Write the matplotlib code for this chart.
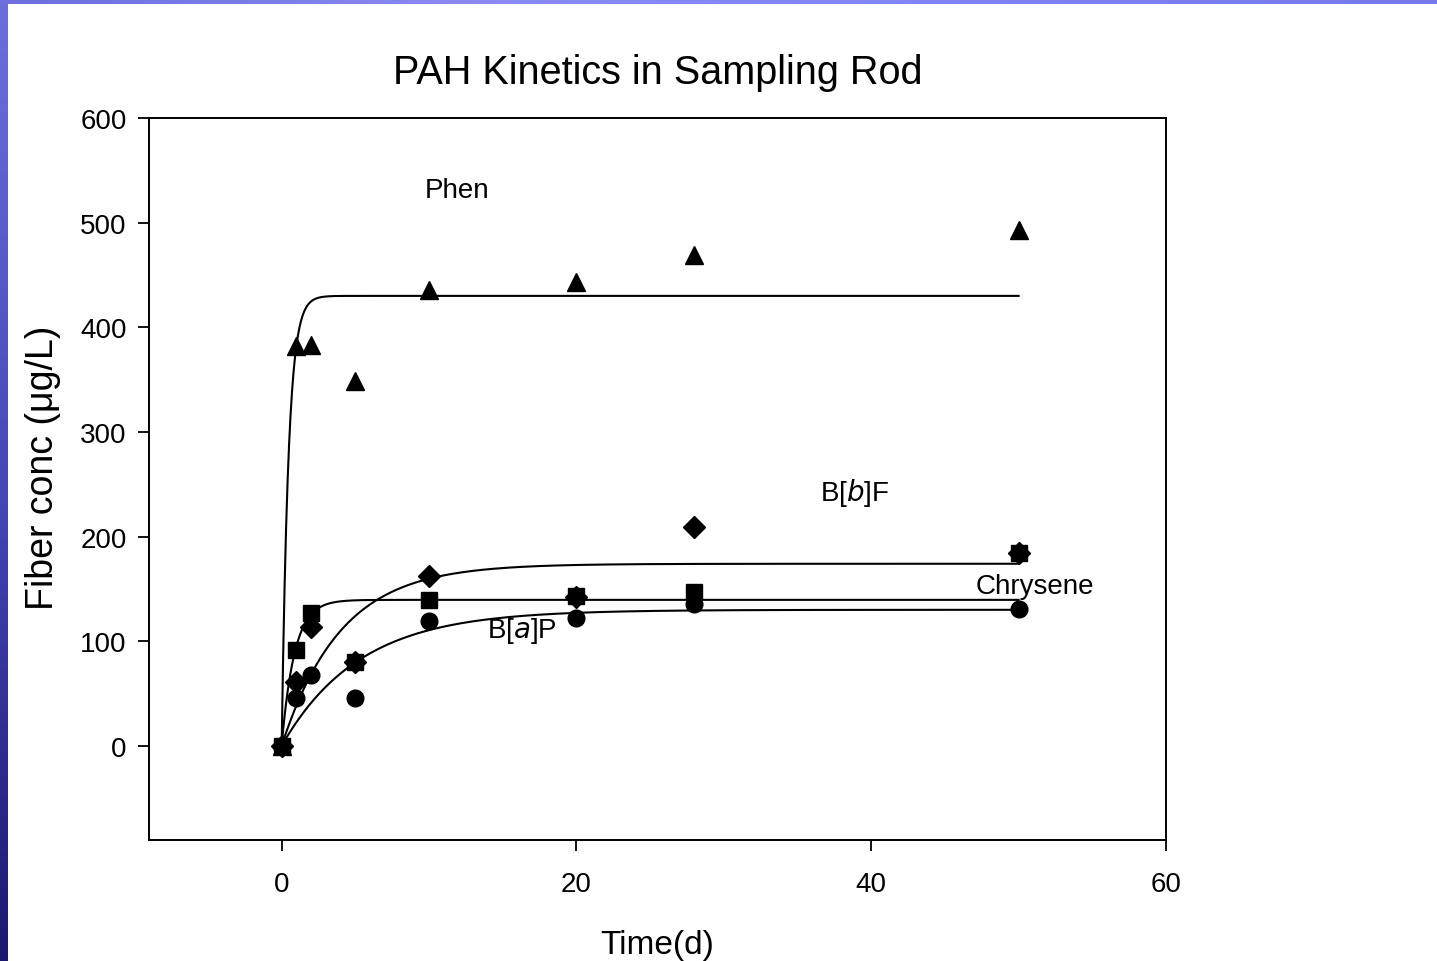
import matplotlib
matplotlib.use("Agg")
import matplotlib.pyplot as plt
import numpy as np

plt.rcParams['font.family'] = ['Liberation Sans', 'DejaVu Sans']

# sampling times (days) and fiber concentrations (ug/L)
days = [0, 1, 2, 5, 10, 20, 28, 50]
phen = [0, 382, 383, 349, 436, 443, 469, 493]
bbf = [0, 61, 114, 80, 162, 142, 209, 184]
chrysene = [0, 92, 127, 80, 139, 143, 147, 184]
bap = [0, 46, 68, 46, 119, 122, 136, 131]

# first-order uptake fits: C = cmax * (1 - exp(-k t))
fit_cmax = {"phen": 430, "bbf": 174, "chrysene": 139.5, "bap": 130}
fit_k = {"phen": 2.2, "bbf": 0.25, "chrysene": 1.15, "bap": 0.19}

fig = plt.figure(figsize=(14.37, 9.62), dpi=100)
fig.patch.set_facecolor("white")

# slide decoration: gradient bars at left and top
left = fig.add_axes([0, 0, 7 / 1437, 1])
left.imshow(np.linspace(0, 1, 256).reshape(-1, 1), aspect="auto",
            cmap=matplotlib.colors.LinearSegmentedColormap.from_list(
                "l", ["#6c6fdc", "#4548b8", "#1c1870"]))
left.axis("off")
top = fig.add_axes([0, 1 - 5 / 962, 1, 5 / 962])
top.imshow(np.linspace(0, 1, 256).reshape(1, -1), aspect="auto",
           cmap=matplotlib.colors.LinearSegmentedColormap.from_list(
               "t", ["#6c6fdc", "#8a8cf2", "#7f84f5", "#7479ec"]))
top.axis("off")

ax = fig.add_axes([149 / 1437, 1 - 841 / 962, (1166 - 149) / 1437, (841 - 119) / 962])

t = np.linspace(0, 50, 500)
for key in ["phen", "bbf", "chrysene", "bap"]:
    ax.plot(t, fit_cmax[key] * (1 - np.exp(-fit_k[key] * t)), color="black", lw=1.5)

ax.plot(days, phen, "^", color="black", ms=13, ls="none")
ax.plot(days, chrysene, "s", color="black", ms=11, ls="none")
ax.plot(days, bbf, "D", color="black", ms=11, ls="none")
ax.plot(days, bap, "o", color="black", ms=12, ls="none")

ax.text(11.9, 531, "Phen", fontsize=20, ha="center", va="center")
ax.text(38.9, 243, "B[$\\it{b}$]F", fontsize=20, ha="center", va="center")
ax.text(51.1, 153, "Chrysene", fontsize=20, ha="center", va="center")
ax.text(16.3, 111, "B[$\\it{a}$]P", fontsize=20, ha="center", va="center")

ax.set_xlim(-9, 60)
ax.set_ylim(-90, 600)
ax.set_xticks([0, 20, 40, 60])
ax.set_yticks([0, 100, 200, 300, 400, 500, 600])
ax.tick_params(labelsize=20, length=8, width=1.3, direction="out", pad=8)
ax.tick_params(axis="x", pad=14.5)
for s in ax.spines.values():
    s.set_linewidth(1.4)

ax.set_title("PAH Kinetics in Sampling Rod", fontsize=28.5, pad=25.5)
ax.set_xlabel("Time(d)", fontsize=24, labelpad=23)
ax.set_ylabel("Fiber conc (\u03bcg/L)", fontsize=27, labelpad=14)
ax.yaxis.label.set_y(0.517)

fig.savefig("out.png", dpi=100)
